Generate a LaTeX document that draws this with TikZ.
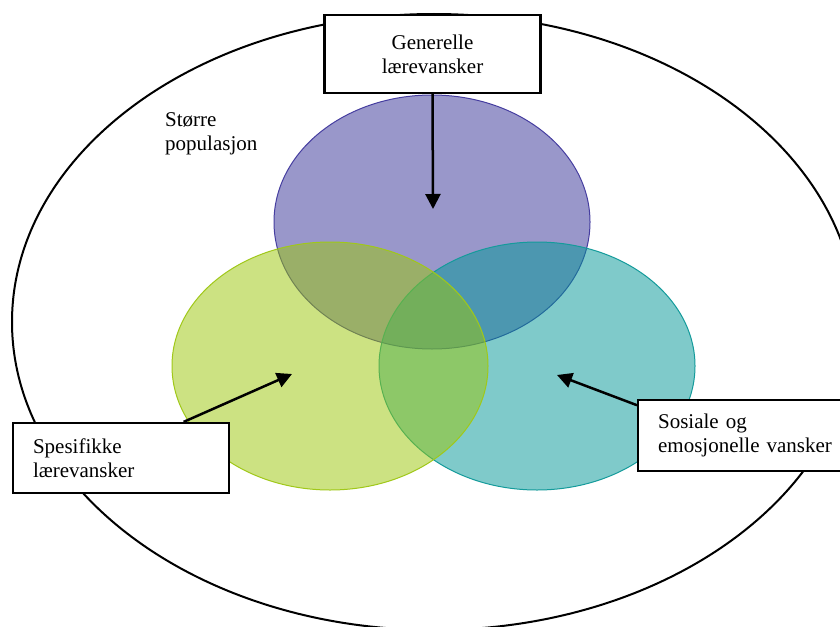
\documentclass[tikz,border=0pt]{standalone}
\usepackage{fontspec}
\setmainfont{Liberation Serif}
\usetikzlibrary{arrows.meta,calc}
\definecolor{purpfill}{RGB}{53,49,151}
\definecolor{tealfill}{RGB}{0,151,151}
\definecolor{greenfill}{RGB}{155,199,7}
\definecolor{purpline}{RGB}{70,62,160}
\definecolor{tealline}{RGB}{20,155,155}
\definecolor{greenline}{RGB}{160,200,25}
\tikzset{
  txt/.style={font=\fontsize{21}{24}\selectfont},
  labelbox/.style={draw=black, line width=2.2pt, fill=white, txt, inner ysep=0pt},
  venn/.style={fill opacity=0.5, line width=1pt},
  pointer/.style={line width=2.5pt, -{Triangle[length=15pt,width=15pt]}},
}
\begin{document}
\begin{tikzpicture}[x=1pt,y=-1pt]
\useasboundingbox (0,0) rectangle (840,626);
\clip (0,0) rectangle (840,626);
\fill[white] (0,0) rectangle (840,626);
% outer population ellipse
\draw[line width=2pt] (434,322) ellipse [x radius=422pt, y radius=308pt];
% venn circles
\filldraw[venn, fill=purpfill, draw=purpline] (432,222) ellipse [x radius=158pt, y radius=127pt];
\filldraw[venn, fill=tealfill, draw=tealline] (537,366) ellipse [x radius=158pt, y radius=124pt];
\filldraw[venn, fill=greenfill, draw=greenline] (330,366) ellipse [x radius=158pt, y radius=124pt];
% label
\node[txt, anchor=base west, align=left, inner sep=0pt] (pop) at (165,150) {Større\\populasjon};
% boxes
\node[labelbox, inner xsep=0pt, minimum width=216pt, minimum height=78pt, align=center] (gen) at (432.5,54) {Generelle\\lærevansker};
\node[labelbox, inner xsep=20pt, minimum width=216pt, minimum height=70pt, align=left, text width=176pt] (spec) at (121,458) {Spesifikke\\lærevansker};
\node[labelbox, inner xsep=20pt, minimum width=216pt, minimum height=71pt, align=left, text width=176pt, anchor=north west] (sos) at (637,399) {Sosiale og\\emosjonelle vansker};
% arrow targets
\coordinate (tgen) at (433,209);
\coordinate (tspec) at (292,374);
\coordinate (tsos) at (557,375);
\draw[pointer] (gen.south) -- (tgen);
\draw[pointer] ($(spec.north west)!0.787!(spec.north east)$) -- (tspec);
\draw[pointer] ($(sos.north west)!0.085!(sos.south west)$) -- (tsos);
\end{tikzpicture}
\end{document}
